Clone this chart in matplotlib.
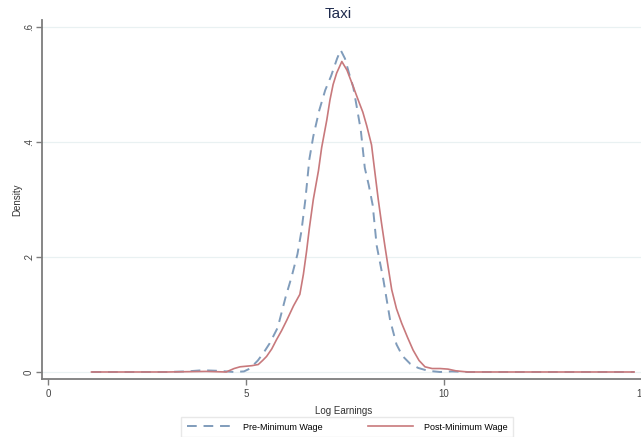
import matplotlib.pyplot as plt

plt.rcParams['font.family'] = ['Liberation Sans', 'DejaVu Sans']

# kernel density estimates
pre_x = [1.1, 2.0, 3.0, 3.5, 3.9, 4.3, 4.7, 4.95, 5.1, 5.3, 5.45, 5.6, 5.8, 6.0,
         6.15, 6.3, 6.4, 6.5, 6.6, 6.7, 6.85, 7.0, 7.15, 7.3, 7.39, 7.5, 7.6,
         7.71, 7.8, 7.9, 8.0, 8.1, 8.2, 8.3, 8.47, 8.64, 8.8, 8.95, 9.15, 9.35,
         9.6, 9.9, 10.2, 10.6, 11.5, 13.0, 14.8]
pre_y = [0.0, 0.0, 0.0, 0.001, 0.003, 0.002, 0.0, 0.001, 0.006, 0.02, 0.034,
         0.05, 0.077, 0.13, 0.165, 0.205, 0.245, 0.30, 0.37, 0.41, 0.455, 0.49,
         0.515, 0.545, 0.56, 0.545, 0.52, 0.495, 0.46, 0.42, 0.355, 0.325,
         0.29, 0.22, 0.16, 0.09, 0.048, 0.028, 0.014, 0.007, 0.002, 0.0,
         0.001, 0.0, 0.0, 0.0, 0.0]

post_x = [1.1, 2.0, 3.0, 4.0, 4.5, 4.7, 4.85, 5.0, 5.15, 5.31, 5.42, 5.52,
          5.65, 5.77, 5.9, 6.03, 6.2, 6.36, 6.45, 6.53, 6.6, 6.7, 6.83, 6.91,
          7.04, 7.12, 7.2, 7.29, 7.42, 7.55, 7.71, 7.85, 7.95, 8.05, 8.17,
          8.25, 8.34, 8.42, 8.51, 8.6, 8.68, 8.8, 8.93, 9.08, 9.22, 9.37, 9.52,
          9.7, 9.9, 10.1, 10.3, 10.6, 12.0, 14.8]
post_y = [0.0, 0.0, 0.0, 0.001, 0.0, 0.006, 0.009, 0.01, 0.011, 0.013, 0.02,
          0.027, 0.04, 0.056, 0.072, 0.09, 0.115, 0.135, 0.17, 0.21, 0.25,
          0.30, 0.35, 0.39, 0.438, 0.473, 0.50, 0.52, 0.54, 0.525, 0.496,
          0.47, 0.452, 0.428, 0.395, 0.35, 0.30, 0.26, 0.218, 0.178, 0.143,
          0.11, 0.085, 0.06, 0.038, 0.02, 0.009, 0.006, 0.006, 0.005, 0.002,
          0.0, 0.0, 0.0]

x_ticks = [0, 5, 10, 15]
y_ticks = [0, 0.2, 0.4, 0.6]
y_labels = ['0', '.2', '.4', '.6']

blue = '#809cbb'
red = '#c8797c'
axis_grey = '#7d7d7d'

fig = plt.figure(figsize=(6.41, 4.37), dpi=100)
ax = fig.add_axes([42 / 641, 58 / 437, 604 / 641, 359 / 437])

for y in y_ticks:
    ax.axhline(y, color='#e9f1f2', lw=0.9, zorder=0)

ax.plot(pre_x, pre_y, color=blue, lw=1.4, dashes=(5, 3.5),
        label='Pre-Minimum Wage')
ax.plot(post_x, post_y, color=red, lw=1.2, label='Post-Minimum Wage')

ax.set_xlim(-0.15, 15.1)
ax.set_ylim(-0.0122, 0.6122)
ax.set_xticks(x_ticks)
ax.set_yticks(y_ticks)
ax.set_yticklabels(y_labels, rotation=90, va='center')

for s in ['top', 'right']:
    ax.spines[s].set_visible(False)
for s in ['left', 'bottom']:
    ax.spines[s].set_color(axis_grey)
    ax.spines[s].set_linewidth(1.3)
ax.tick_params(colors='#444444', labelsize=7, length=4, width=1,
               color=axis_grey)
ax.tick_params(axis='y', pad=2)

ax.set_xlabel('Log Earnings', fontsize=7, color='#333333', labelpad=5)
ax.set_ylabel('Density', fontsize=7, color='#333333', labelpad=1)

fig.text(338 / 641, 1 - 14 / 437, 'Taxi', ha='center', va='center',
         fontsize=11, color='#1f2b4d')

fig.legend(loc='center', bbox_to_anchor=(347 / 641, 1 - 427 / 437), ncol=2,
           fontsize=6.5, handlelength=5, handletextpad=1.2, columnspacing=5,
           frameon=True, fancybox=False, edgecolor='#e3e3e3',
           borderpad=0.6)

fig.savefig('out.png', dpi=100)
